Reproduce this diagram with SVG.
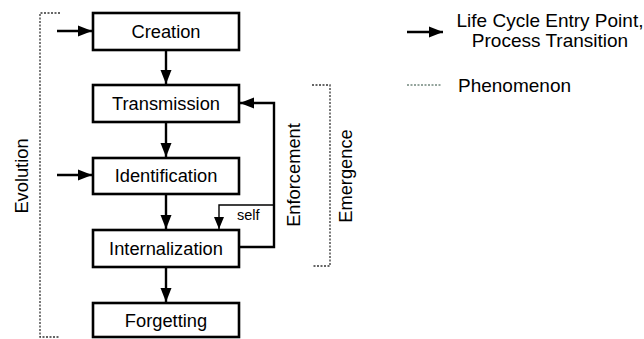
<svg xmlns="http://www.w3.org/2000/svg" width="644" height="339" viewBox="0 0 644 339">
<defs>
<style>
.box{fill:#fff;stroke:#000;stroke-width:2.6}
.lbl{font-family:"Liberation Sans",Arial,sans-serif;font-size:18.3px;fill:#000}
.mid{text-anchor:middle}
.leg{font-size:19px}
.conn{fill:none;stroke:#000;stroke-width:2.4}
.thin{fill:none;stroke:#000;stroke-width:1.4}
.dot{fill:none;stroke:#333;stroke-width:1.3;stroke-dasharray:2 1.5}
</style>
<marker id="ah" markerUnits="userSpaceOnUse" markerWidth="15" markerHeight="12" refX="14" refY="6" orient="auto">
<path d="M0,0.5 L14,6 L0,11.5 z" fill="#000"/>
</marker>
<marker id="ahs" markerUnits="userSpaceOnUse" markerWidth="12" markerHeight="11" refX="12" refY="5.5" orient="auto">
<path d="M0,0.5 L12,5.5 L0,10.5 z" fill="#000"/>
</marker>
</defs>
<g id="connectors">
<line class="conn" x1="57" y1="31" x2="92" y2="31" marker-end="url(#ah)"/>
<line class="conn" x1="57" y1="175" x2="92" y2="175" marker-end="url(#ah)"/>
<line class="conn" x1="166" y1="50" x2="166" y2="84" marker-end="url(#ah)"/>
<line class="conn" x1="166" y1="122" x2="166" y2="157" marker-end="url(#ah)"/>
<line class="conn" x1="166" y1="194" x2="166" y2="229" marker-end="url(#ah)"/>
<line class="conn" x1="166" y1="267" x2="166" y2="302" marker-end="url(#ah)"/>
<polyline class="conn" points="239,247 274,247 274,103 240,103" marker-end="url(#ah)"/>
<polyline class="thin" points="274,205 219,205 219,229" marker-end="url(#ahs)"/>
<text class="lbl" x="237" y="220" style="font-size:14.5px">self</text>
<text class="lbl mid" transform="translate(300,175) rotate(-90)">Enforcement</text>
</g>
<g id="creation"><rect class="box" x="93" y="13" width="146" height="37"/><text class="lbl mid" x="166" y="38">Creation</text></g>
<g id="transmission"><rect class="box" x="93" y="85" width="146" height="37"/><text class="lbl mid" x="166" y="110">Transmission</text></g>
<g id="identification"><rect class="box" x="93" y="158" width="146" height="36"/><text class="lbl mid" x="166" y="182">Identification</text></g>
<g id="internalization"><rect class="box" x="93" y="230" width="146" height="37"/><text class="lbl mid" x="166" y="255">Internalization</text></g>
<g id="forgetting"><rect class="box" x="93" y="303" width="146" height="34"/><text class="lbl mid" x="166" y="327">Forgetting</text></g>
<g id="evolution">
<polyline class="dot" points="60,13 40,13 40,337 60,337"/>
<text class="lbl mid" transform="translate(28,176) rotate(-90)">Evolution</text>
</g>
<g id="emergence">
<polyline class="dot" points="312,85 330,85 330,266 312,266"/>
<text class="lbl mid" transform="translate(352,176) rotate(-90)">Emergence</text>
</g>
<g id="legend">
<line class="conn" x1="407" y1="32" x2="443" y2="32" marker-end="url(#ah)"/>
<text class="lbl leg mid" x="550" y="27">Life Cycle Entry Point,</text>
<text class="lbl leg mid" x="550" y="47">Process Transition</text>
<line x1="407" y1="85" x2="441" y2="85" stroke="#2b4a3a" stroke-width="1" stroke-dasharray="2 1.5"/>
<text class="lbl leg" x="458" y="92">Phenomenon</text>
</g>
</svg>
